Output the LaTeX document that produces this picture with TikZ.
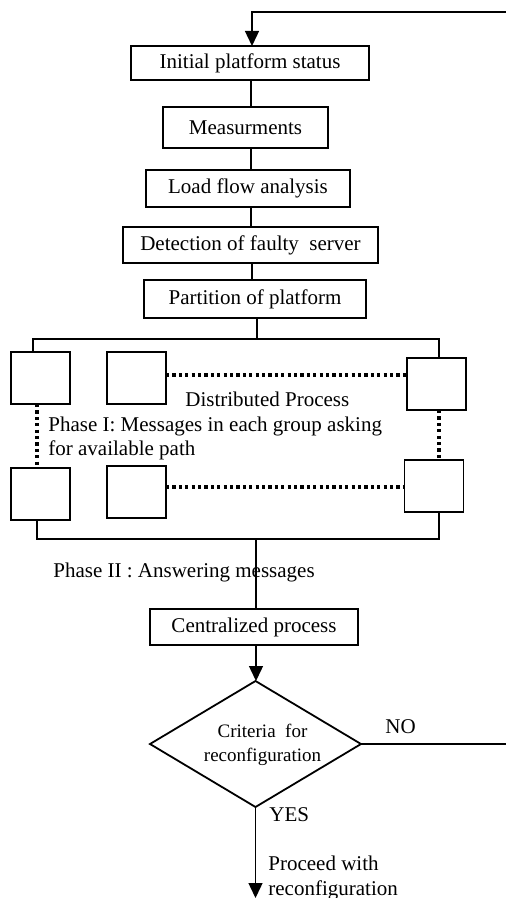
\documentclass[tikz,border=0pt]{standalone}
\usepackage{fontspec}
\setmainfont{Liberation Serif}
\usetikzlibrary{arrows.meta,shapes.geometric}
\begin{document}
\begin{tikzpicture}[x=0.5pt,y=-0.5pt,
  font=\fontsize{10.5}{12.5}\selectfont,
  bx/.style={draw,line width=0.9pt,inner sep=0pt,outer sep=0pt},
  sq/.style={bx,minimum width=29.5pt,minimum height=26pt},
  ln/.style={line width=0.7pt},
  dl/.style={line width=1.6pt,dash pattern=on 1.6pt off 1.6pt},
  arr/.style={ln,-{Triangle[length=7.5pt,width=7pt]}},
  lbl/.style={anchor=base west,inner sep=0pt}]
\useasboundingbox (0,0) rectangle (506,898);
% main boxes
\node[bx,minimum width=119pt,minimum height=17pt] (b1) at (250,63) {Initial platform status};
\node[bx,minimum width=82.5pt,minimum height=20.5pt] (b2) at (245.5,127.5) {Measurments};
\node[bx,minimum width=102pt,minimum height=18.5pt] (b3) at (248,188.5) {Load flow analysis};
\node[bx,minimum width=127.5pt,minimum height=18pt] (b4) at (250.5,245) {Detection of faulty\ \ server};
\node[bx,minimum width=111pt,minimum height=19pt] (b5) at (255,299) {Partition of platform};
% small boxes
\node[sq] (l1) at (40.5,378) {};
\node[sq] (m1) at (136.5,378) {};
\node[sq] (r1) at (436.5,384) {};
\node[sq] (l2) at (40.5,494) {};
\node[sq] (m2) at (136.5,492) {};
\node[sq] (r2) at (434,486) {};
% centralized + decision
\node[bx,minimum width=104pt,minimum height=18pt] (b6) at (254,627) {Centralized process};
\node[draw,line width=0.9pt,diamond,aspect=1.67,inner sep=0pt,outer sep=0pt,
      minimum width=105.5pt,minimum height=63pt] (dm) at (255.5,744) {};
\node[align=center,inner sep=0pt,font=\fontsize{9.5}{12}\selectfont] (dmt) at (262.5,745) {Criteria\ \ for\\reconfiguration};
% coordinates
\coordinate (tl) at (252,12);
\coordinate (tr) at (508,12);
\coordinate (nr) at (508,744);
\coordinate (hl) at (33,339);
\coordinate (hr) at (439,339);
\coordinate (hc) at (257,339);
\coordinate (gl) at (37,539);
\coordinate (gr) at (439,539);
\coordinate (gc) at (256,539);
\coordinate (endp) at (255.5,898);
% feedback loop
\draw[arr] (dm.east) -- (nr) -- (tr) -- (tl) -- (tl |- b1.north);
% chain
\draw[ln] (251,80) -- (251,107);
\draw[ln] (251,148) -- (251,170);
\draw[ln] (251,207) -- (251,227);
\draw[ln] (252,263) -- (252,280);
% tree top
\draw[ln] (hc |- b5.south) -- (hc);
\draw[ln] (hl |- l1.north) -- (hl) -- (hr) -- (hr |- r1.north);
% dotted
\draw[dl] (m1.east |- 0,375) -- (r1.west |- 0,375);
\draw[dl] (m2.east |- 0,487) -- (r2.west |- 0,487);
\draw[dl] (37,404) -- (37,468);
\draw[dl] (439,410) -- (439,460);
% tree bottom
\draw[ln] (gl |- l2.south) -- (gl) -- (gr) -- (gr |- r2.south);
\draw[ln] (gc) -- (gc |- b6.north);
% to decision
\draw[arr] (256,645) -- (256,681);
\draw[arr] (dm.south) -- (endp);
% labels
\node[lbl] (t1) at (185,406) {Distributed Process};
\node[lbl] (t2) at (48,431) {Phase I: Messages in each group asking};
\node[lbl] (t3) at (48,455) {for available path};
\node[lbl] (t4) at (53,577) {Phase II : Answering messages};
\node[lbl] (t5) at (385,733) {NO};
\node[lbl] (t6) at (269,821) {YES};
\node[lbl] (t7) at (268,870) {Proceed with};
\node[lbl] (t8) at (268,895) {reconfiguration};
\end{tikzpicture}
\end{document}
